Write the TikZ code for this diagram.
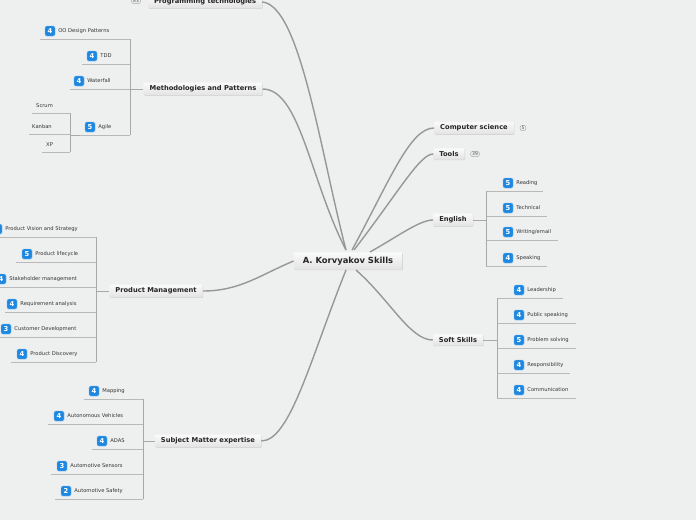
\documentclass[tikz,border=0pt]{standalone}
\usepackage{fontspec}
\setmainfont{DejaVu Sans}
\usetikzlibrary{shadows}
\definecolor{bg}{HTML}{EEF0EF}
\definecolor{ln}{HTML}{A8A8A8}
\definecolor{bl}{HTML}{1E88E0}
\tikzset{
  br/.style={draw=none,top color=white!96!gray,bottom color=gray!22,drop shadow={opacity=0.25,shadow xshift=0.6pt,shadow yshift=-0.6pt},font=\bfseries\fontsize{6.7}{7.5}\selectfont,text=black!85,inner xsep=6pt,inner ysep=3pt,rounded corners=1pt},
  ctr/.style={br,font=\bfseries\fontsize{8.4}{9}\selectfont,inner xsep=9pt,inner ysep=4.5pt},
  bd/.style={fill=bl,draw=bl!60!white,line width=0.4pt,rounded corners=1.5pt,text=white,font=\bfseries\fontsize{6.8}{7}\selectfont,minimum size=10pt,inner sep=0pt},
  lt/.style={font=\fontsize{5.2}{6}\selectfont,text=black!80,inner sep=0pt,anchor=west},
  cnt/.style={draw=gray!70,fill=gray!10,rounded corners=2pt,font=\fontsize{4.5}{5}\selectfont,text=black!70,inner xsep=1.5pt,inner ysep=0.8pt,line width=0.5pt},
  ul/.style={draw=ln!80,line width=0.6pt},
  cn/.style={draw=ln,line width=1pt},
  mc/.style={draw=ln!90!black,line width=1.4pt},
}
\newcommand{\leaf}[7]{%
  \node[bd] (#1b) at (#2,#3) {#4};
  \node[lt] (#1) at ([xshift=3pt]#1b.east) {#5};
  \coordinate (#1l) at (#6,#3+8);
  \coordinate (#1r) at (#7,#3+8);
  \draw[ul] (#1l) -- (#1r);}
\newcommand{\plain}[6]{%
  \node[lt] (#1) at (#2,#3) {#4};
  \coordinate (#1l) at (#5,#3+7);
  \coordinate (#1r) at (#6,#3+7);
  \draw[ul] (#1l) -- (#1r);}
\begin{document}
\begin{tikzpicture}[x=1pt,y=-1pt]
\fill[bg] (0,0) rectangle (696,520);
\useasboundingbox (0,0) rectangle (696,520);

\node[ctr] (c) at (348,261) {A. Korvyakov Skills};

\node[br] (prog) at (205,2) {Programming technologies};
\node[cnt] (progc) at (136,1) {83};
\node[br] (meth) at (203,89) {Methodologies and Patterns};
\node[br] (pm) at (156,291) {Product Management};
\node[br] (sme) at (208,441) {Subject Matter expertise};
\node[br] (cs) at (474,128) {Computer science};
\node[cnt] (csc) at (523,128) {5};
\node[br] (tools) at (449,154) {Tools};
\node[cnt] (toolsc) at (475,154) {39};
\node[br] (eng) at (453,220) {English};
\node[br] (soft) at (458,340) {Soft Skills};

\coordinate (cb) at (346,250);
\draw[mc] (cb) .. controls (320,150) and (300,5) .. (prog.east);
\draw[mc] (cb) .. controls (310,180) and (300,89) .. (meth.east);
\draw[mc] (c.west) .. controls (260,275) and (240,291) .. (pm.east);
\draw[mc] (346,270) .. controls (310,360) and (290,441) .. (sme.east);
\draw[mc] (352,250) .. controls (390,180) and (410,128) .. (cs.west);
\draw[mc] (354,250) .. controls (400,190) and (420,154) .. (tools.west);
\draw[mc] (370,252) .. controls (400,235) and (420,220) .. (eng.west);
\draw[mc] (356,270) .. controls (390,300) and (410,340) .. (soft.west);

\leaf{oo}{50}{31}{4}{OO Design Patterns}{40}{130}
\leaf{tdd}{92}{56}{4}{TDD}{82}{130}
\leaf{wf}{79}{81}{4}{Waterfall}{70}{130}
\leaf{ag}{90}{127}{5}{Agile}{80}{130}
\draw[cn] (oor) -- (agr);
\draw[cn] (130,89) -- (meth.west);
\plain{scr}{36}{106}{Scrum}{32}{70}
\plain{kan}{32}{127}{Kanban}{29}{70}
\plain{xp}{46}{145}{XP}{42}{70}
\draw[cn] (scrr) -- (xpr);
\draw[cn] (70,135) -- (agl);

\leaf{pv}{-3}{229}{4}{Product Vision and Strategy}{0}{96}
\leaf{pl}{27}{254}{5}{Product lifecycle}{16}{96}
\leaf{sh}{1}{279}{4}{Stakeholder management}{0}{96}
\leaf{ra}{12}{304}{4}{Requirement analysis}{5}{96}
\leaf{cd}{6}{329}{3}{Customer Development}{0}{96}
\leaf{pd}{22}{354}{4}{Product Discovery}{11}{96}
\draw[cn] (pvr) -- (pdr);
\draw[cn] (96,291) -- (pm.west);

\leaf{map}{94}{391}{4}{Mapping}{84}{143}
\leaf{av}{59}{416}{4}{Autonomous Vehicles}{48}{143}
\leaf{adas}{102}{441}{4}{ADAS}{92}{143}
\leaf{as}{62}{466}{3}{Automotive Sensors}{51}{143}
\leaf{asf}{66}{491}{2}{Automotive Safety}{55}{143}
\draw[cn] (mapr) -- (asfr);
\draw[cn] (143,441) -- (sme.west);

\leaf{rd}{508}{183}{5}{Reading}{486}{543}
\leaf{tec}{508}{208}{5}{Technical}{486}{547}
\leaf{we}{508}{232}{5}{Writing/email}{486}{558}
\leaf{sp}{508}{258}{4}{Speaking}{486}{547}
\draw[cn] (rdl) -- (spl);
\draw[cn] (eng.east) -- (486,220);

\leaf{ld}{519}{290}{4}{Leadership}{497}{563}
\leaf{ps}{519}{315}{4}{Public speaking}{497}{576}
\leaf{pso}{519}{340}{5}{Problem solving}{497}{576}
\leaf{rs}{519}{365}{4}{Responsibility}{497}{570}
\leaf{com}{519}{390}{4}{Communication}{497}{576}
\draw[cn] (ldl) -- (coml);
\draw[cn] (soft.east) -- (497,340);
\end{tikzpicture}
\end{document}
